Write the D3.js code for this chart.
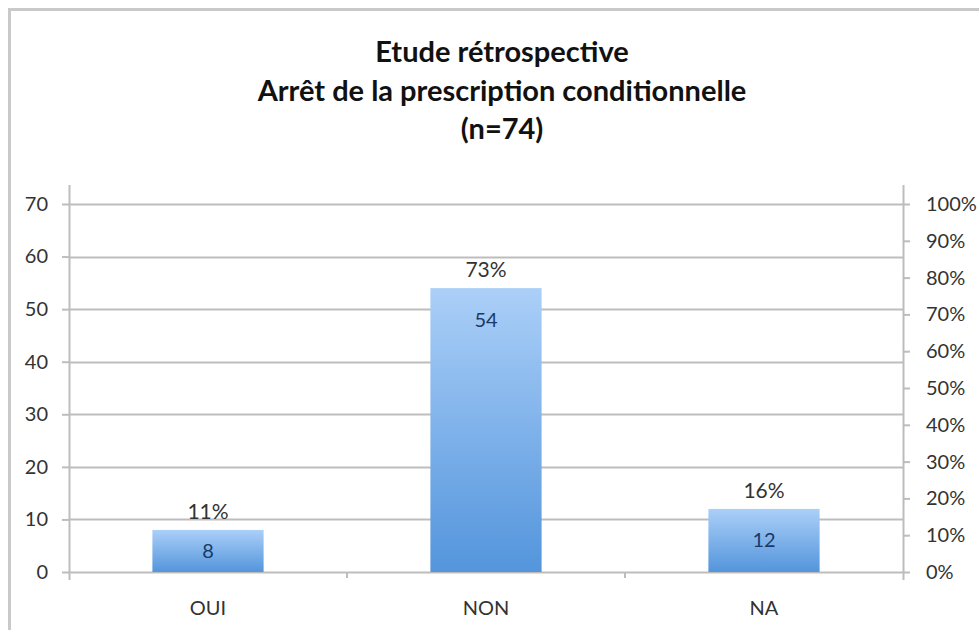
<!DOCTYPE html>
<html>
<head>
<meta charset="utf-8">
<script src="https://cdn.jsdelivr.net/npm/d3@7"></script>
<style>
  body { margin: 0; background: #fff; }
  svg { display: block; font-family: Lato, "Open Sans", sans-serif; }
</style>
</head>
<body>
<div id="chart"></div>
<script>
// data
var categories = ["OUI", "NON", "NA"];
var counts = [8, 54, 12];
var percents = ["11%", "73%", "16%"];
var titleLines = ["Etude rétrospective", "Arrêt de la prescription conditionnelle", "(n=74)"];
var leftTicks = [0, 10, 20, 30, 40, 50, 60, 70];
var rightTicks = [0, 0.1, 0.2, 0.3, 0.4, 0.5, 0.6, 0.7, 0.8, 0.9, 1];

var w = 979, h = 630;
var plot = {left: 69, right: 903, top: 204, bottom: 572};
var axisColor = "#bdbdbd";
var fontStack = "Lato, 'Open Sans', sans-serif";

var svg = d3.select("#chart").append("svg").attr("width", w).attr("height", h);

// gradient for bars
var grad = svg.append("defs").append("linearGradient")
    .attr("id", "barGrad").attr("x1", 0).attr("y1", 0).attr("x2", 0).attr("y2", 1);
grad.append("stop").attr("offset", "0%").attr("stop-color", "#abcff8");
grad.append("stop").attr("offset", "100%").attr("stop-color", "#5395dc");

// frame
svg.append("path")
    .attr("d", "M9.5," + h + " V9.5 H" + w)
    .attr("fill", "none").attr("stroke", "#c9c9c9").attr("stroke-width", 3);

// title
svg.append("g").selectAll("text").data(titleLines).enter().append("text")
    .attr("x", 502).attr("y", function(d, i) { return 62 + i * 38.5; })
    .attr("text-anchor", "middle")
    .attr("font-size", 29).attr("font-weight", "bold").attr("fill", "#111")
    .text(function(d) { return d; });

var x = d3.scaleBand().domain(categories).range([plot.left, plot.right]);
var y = d3.scaleLinear().domain([0, 70]).range([plot.bottom, plot.top]);
var y2 = d3.scaleLinear().domain([0, 1]).range([plot.bottom, plot.top]);

// gridlines
svg.append("g").selectAll("line").data(leftTicks).enter().append("line")
    .attr("x1", plot.left).attr("x2", plot.right)
    .attr("y1", function(d) { return Math.round(y(d)) + 0.5; })
    .attr("y2", function(d) { return Math.round(y(d)) + 0.5; })
    .attr("stroke", axisColor).attr("stroke-width", 2);

// left axis
var leftAxis = svg.append("g").attr("transform", "translate(" + plot.left + ",0)")
    .call(d3.axisLeft(y).tickValues(leftTicks).tickSize(7).tickPadding(14));
// right axis
var rightAxis = svg.append("g").attr("transform", "translate(" + plot.right + ",0)")
    .call(d3.axisRight(y2).tickValues(rightTicks).tickSize(7).tickPadding(16).tickFormat(d3.format(".0%")));
// bottom axis, separators at category boundaries
var bottomAxis = svg.append("g").attr("transform", "translate(0," + plot.bottom + ")")
    .call(d3.axisBottom(x).tickSize(0).tickPadding(29));
bottomAxis.selectAll(".sep").data(categories.slice(1)).enter().append("line")
    .attr("class", "sep")
    .attr("x1", function(d) { return x(d); }).attr("x2", function(d) { return x(d); })
    .attr("y1", 0).attr("y2", 6).attr("stroke", axisColor).attr("stroke-width", 2);

[leftAxis, rightAxis, bottomAxis].forEach(function(a) {
    a.select(".domain").attr("stroke", axisColor).attr("stroke-width", 2);
    a.selectAll(".tick line").attr("stroke", axisColor).attr("stroke-width", 2);
    a.selectAll("text").attr("font-size", 20).attr("fill", "#333").attr("font-family", fontStack);
});
bottomAxis.select(".domain").remove();
leftAxis.select(".domain").attr("d", "M0.5,185V" + (plot.bottom + 8));
rightAxis.select(".domain").attr("d", "M0.5,185V" + (plot.bottom + 8));

// bars
var barW = x.bandwidth() * 0.4;
var bars = svg.append("g").selectAll("g").data(categories).enter().append("g");
bars.append("rect")
    .attr("x", function(d) { return x(d) + (x.bandwidth() - barW) / 2; })
    .attr("y", function(d, i) { return y(counts[i]); })
    .attr("width", barW)
    .attr("height", function(d, i) { return plot.bottom - y(counts[i]); })
    .attr("fill", "url(#barGrad)");

// value labels inside the bars
bars.append("text")
    .attr("x", function(d) { return x(d) + x.bandwidth() / 2; })
    .attr("y", function(d, i) {
        var top = y(counts[i]);
        return Math.min(top + 39, (top + plot.bottom) / 2 + 7);
    })
    .attr("text-anchor", "middle").attr("font-size", 20).attr("fill", "#1a3a66")
    .text(function(d, i) { return counts[i]; });

// percent labels above the bars
bars.append("text")
    .attr("x", function(d) { return x(d) + x.bandwidth() / 2; })
    .attr("y", function(d, i) { return y(counts[i]) - 11; })
    .attr("text-anchor", "middle").attr("font-size", 21).attr("fill", "#333")
    .text(function(d, i) { return percents[i]; });
</script>
</body>
</html>
